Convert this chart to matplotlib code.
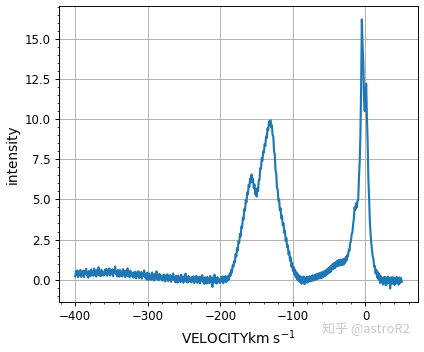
import numpy as np
import matplotlib
matplotlib.use("Agg")
import matplotlib.pyplot as plt

# velocity grid of the spectrum (km/s), 1 km/s channels
velocity = np.arange(-400, 51, 1)

# intensity, one row per 20 km/s starting at -400
intensity = [
    0.21, 0.54, 0.28, 0.58, 0.16, 0.46, 0.31, 0.61, 0.18, 0.48, 0.27, 0.57, 0.16, 0.53, 0.36, 0.68, 0.26, 0.46, 0.13, 0.55,
    0.52, 0.22, 0.64, 0.30, 0.47, 0.24, 0.70, 0.34, 0.57, 0.20, 0.60, 0.37, 0.77, 0.27, 0.54, 0.22, 0.62, 0.32, 0.50, 0.26,
    0.30, 0.63, 0.37, 0.67, 0.25, 0.55, 0.40, 0.70, 0.27, 0.57, 0.35, 0.65, 0.23, 0.60, 0.43, 0.82, 0.33, 0.53, 0.20, 0.61,
    0.48, 0.18, 0.60, 0.26, 0.43, 0.20, 0.66, 0.30, 0.53, 0.16, 0.56, 0.33, 0.70, 0.21, 0.48, 0.16, 0.56, 0.26, 0.44, 0.20,
    0.13, 0.46, 0.20, 0.50, 0.08, 0.38, 0.23, 0.53, 0.10, 0.40, 0.18, 0.48, 0.06, 0.43, 0.26, 0.58, 0.16, 0.36, 0.03, 0.44,
    0.27, -0.03, 0.39, 0.05, 0.22, -0.01, 0.45, 0.09, 0.32, -0.05, 0.35, 0.12, 0.52, 0.02, 0.29, -0.03, 0.37, 0.07, 0.25, 0.01,
    -0.06, 0.27, 0.01, 0.31, -0.11, 0.19, 0.04, 0.34, -0.09, 0.21, -0.01, 0.29, -0.13, 0.24, 0.07, 0.39, -0.03, 0.17, -0.16, 0.25,
    0.13, -0.17, 0.25, -0.09, 0.08, -0.15, 0.31, -0.05, 0.18, -0.19, 0.21, -0.02, 0.38, -0.12, 0.15, -0.17, 0.23, -0.07, 0.11, -0.13,
    -0.16, 0.17, -0.09, 0.21, -0.21, 0.09, -0.06, 0.24, -0.19, 0.11, -0.11, 0.19, -0.23, 0.14, -0.03, 0.29, -0.13, 0.07, -0.26, 0.15,
    0.06, -0.24, 0.18, -0.16, 0.01, -0.22, 0.24, -0.12, 0.11, -0.45, 0.14, -0.09, 0.31, -0.19, 0.08, -0.24, 0.16, -0.14, 0.04, -0.20,
    -0.17, 0.16, -0.10, 0.20, -0.22, 0.08, -0.07, 0.23, -0.15, 0.14, -0.05, 0.25, 0.02, 0.40, 0.25, 0.62, 0.45, 0.90, 0.80, 1.15,
    1.08, 1.60, 1.45, 1.98, 1.82, 2.40, 2.30, 2.85, 2.70, 3.32, 3.22, 3.85, 3.75, 4.40, 4.30, 4.95, 4.82, 5.45, 5.30, 5.90,
    5.78, 6.30, 6.05, 6.55, 6.12, 6.30, 5.72, 5.92, 5.32, 5.65, 5.18, 5.70, 5.52, 6.20, 6.22, 6.95, 6.92, 7.55, 7.42, 7.98,
    7.90, 8.45, 8.32, 8.92, 8.82, 9.42, 9.30, 9.85, 9.62, 9.92, 9.50, 9.62, 9.02, 8.90, 8.02, 7.80, 6.82, 6.62, 5.72, 5.65,
    4.92, 5.00, 4.32, 4.45, 3.82, 3.98, 3.38, 3.52, 2.92, 3.05, 2.42, 2.60, 2.02, 2.15, 1.58, 1.75, 1.18, 1.38, 0.82, 1.05,
    0.55, 0.80, 0.33, 0.62, 0.15, 0.45, 0.02, 0.35, -0.08, 0.25, -0.15, 0.18, -0.25, 0.14, -0.18, 0.20, -0.28, 0.12, -0.16, 0.17,
    -0.18, 0.18, -0.12, 0.22, -0.10, 0.20, -0.05, 0.28, -0.06, 0.25, -0.02, 0.32, 0.02, 0.35, 0.05, 0.38, 0.08, 0.42, 0.10, 0.45,
    0.12, 0.48, 0.18, 0.52, 0.22, 0.58, 0.30, 0.65, 0.38, 0.72, 0.42, 0.80, 0.50, 0.88, 0.62, 0.98, 0.68, 1.05, 0.72, 1.10,
    0.82, 1.18, 0.85, 1.22, 0.88, 1.25, 0.90, 1.22, 0.92, 1.28, 0.95, 1.30, 1.05, 1.42, 1.20, 1.55, 1.45, 1.88, 1.80, 2.30,
    2.40, 2.85, 2.95, 3.45, 3.80, 4.50, 4.35, 4.75, 4.50, 4.90, 5.00, 6.30, 7.30, 8.90, 11.9, 16.2, 14.6, 13.6, 11.3, 10.5,
    11.5, 12.2, 10.1, 8.6, 6.3, 5.1, 3.7, 2.9, 2.3, 1.85, 1.45, 1.30, 0.80, 0.85, 0.40, 0.62, 0.15, 0.48, 0.02, 0.35,
    -0.20, 0.22, -0.15, 0.12, -0.30, 0.15, -0.22, 0.18, -0.35, 0.08, -0.25, 0.20, -0.18, 0.10, -0.55, 0.14, -0.28, 0.16, -0.20, 0.12,
    -0.32, 0.10, -0.25, 0.18, -0.22, 0.08, -0.30, 0.15, -0.20, 0.10, -0.12,
]

# original figure was ~5x4.1 in, shown at 424x352
fig = plt.figure(figsize=(424 / 85, 352 / 85), dpi=85)
ax = fig.add_axes([0.139, 0.142, 0.847, 0.841])
ax.plot(velocity, intensity, color='#1f77b4', lw=1.8)
ax.set_xlabel('VELOCITYkm s$^{-1}$', fontsize=11.5)
ax.set_ylabel('intensity', fontsize=11.5)
ax.minorticks_on()
ax.grid(True, which='major')

# watermark
fig.text(0.76, 0.055, '知乎 @astroR2', color='#c8c8c8', fontsize=11,
         family=['Noto Sans CJK SC', 'DejaVu Sans'])

fig.savefig('out.png', dpi=85)
